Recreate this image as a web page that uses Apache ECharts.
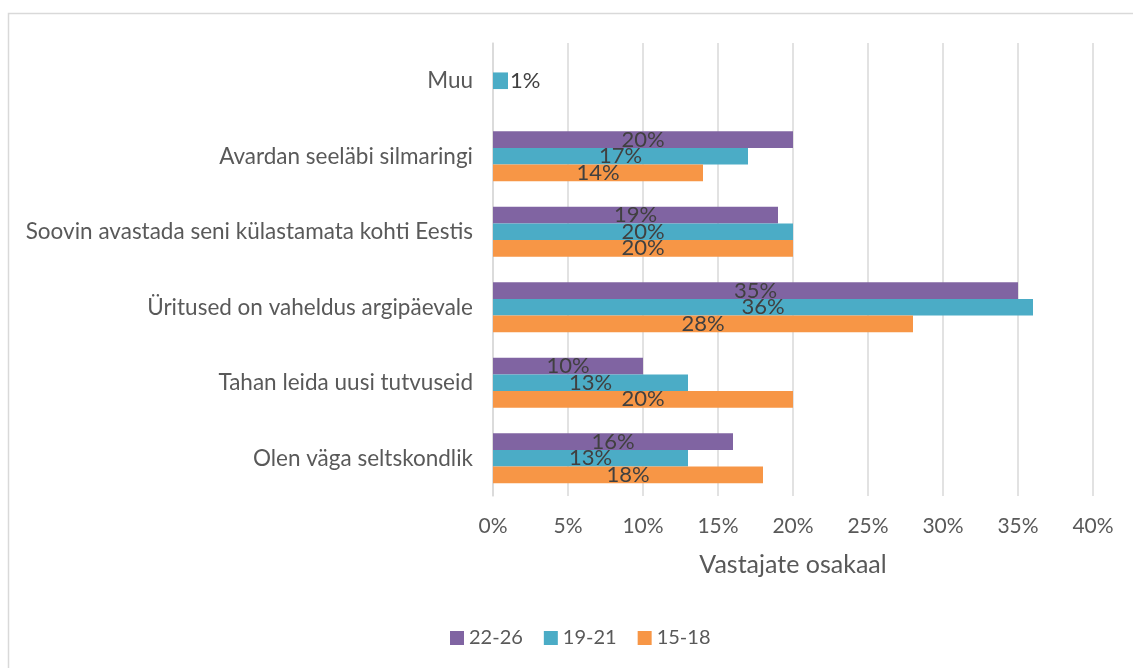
<!DOCTYPE html>
<html>
<head>
<meta charset="utf-8">
<script src="https://cdn.jsdelivr.net/npm/echarts@6/dist/echarts.min.js"></script>
<style>
  html, body { margin: 0; padding: 0; background: #fff; }
  #chart { width: 1133px; height: 668px; }
</style>
</head>
<body>
<div id="chart"></div>
<script>
// kategooriad alt üles
var categories = ['Olen väga seltskondlik', 'Tahan leida uusi tutvuseid', 'Üritused on vaheldus argipäevale',
    'Soovin avastada seni külastamata kohti Eestis', 'Avardan seeläbi silmaringi', 'Muu'];
var age2226 = [16, 10, 35, 19, 20, null];
var age1921 = [13, 13, 36, 20, 17, 1];
var age1518 = [18, 20, 28, 20, 14, null];
var xTicks = [0, 5, 10, 15, 20, 25, 30, 35, 40];

var FONT = 'Lato';
var dom = document.getElementById('chart');
var myChart = echarts.init(dom);

function withLabels(arr) {
    return arr.map(function (v) {
        // väike väärtus -> silt väljapoole
        if (v !== null && v < 3) {
            return { value: v, label: { position: 'right', distance: 2 } };
        }
        return v;
    });
}

var labelStyle = {
    show: true,
    position: 'inside',
    color: '#404040',
    fontFamily: FONT,
    fontSize: 22,
    formatter: '{c}%'
};

var option = {
    backgroundColor: '#fff',
    animation: false,
    graphic: [{
        type: 'rect',
        shape: { x: 8.5, y: 13.5, width: 1200, height: 700 },
        style: { fill: 'none', stroke: '#d9d9d9', lineWidth: 1.5 },
        silent: true
    }],
    legend: {
        data: ['22-26', '19-21', '15-18'],
        left: 445,
        top: 623,
        itemWidth: 14,
        itemHeight: 14,
        itemGap: 21,
        icon: 'rect',
        textStyle: { color: '#595959', fontFamily: FONT, fontSize: 20 }
    },
    grid: {
        left: 493,
        right: 40,
        top: 43,
        bottom: 172,
        containLabel: false
    },
    xAxis: {
        type: 'value',
        min: 0,
        max: 40,
        interval: 5,
        name: 'Vastajate osakaal',
        nameLocation: 'middle',
        nameGap: 56,
        nameTextStyle: { color: '#595959', fontFamily: FONT, fontSize: 25 },
        axisLine: { show: false },
        axisTick: { show: false },
        axisLabel: {
            color: '#595959',
            fontFamily: FONT,
            fontSize: 21,
            margin: 20,
            formatter: function (v) { return xTicks.indexOf(v) >= 0 ? v + '%' : ''; }
        },
        splitLine: { show: true, lineStyle: { color: '#d9d9d9', width: 1.5 } }
    },
    yAxis: {
        type: 'category',
        data: categories,
        axisLine: { show: true, lineStyle: { color: '#d9d9d9', width: 1.5 } },
        axisTick: { show: false },
        axisLabel: {
            color: '#595959',
            fontFamily: FONT,
            fontSize: 22.5,
            margin: 20
        }
    },
    series: [
        {
            name: '22-26',
            type: 'bar',
            barGap: '0%',
            barCategoryGap: '34%',
            itemStyle: { color: '#8064A2' },
            label: labelStyle,
            data: withLabels(age2226)
        },
        {
            name: '19-21',
            type: 'bar',
            barGap: '0%',
            barCategoryGap: '34%',
            itemStyle: { color: '#4BACC6' },
            label: labelStyle,
            data: withLabels(age1921)
        },
        {
            name: '15-18',
            type: 'bar',
            barGap: '0%',
            barCategoryGap: '34%',
            itemStyle: { color: '#F79646' },
            label: labelStyle,
            data: withLabels(age1518)
        }
    ]
};

if (option && typeof option === 'object') {
    myChart.setOption(option, true);
}
</script>
</body>
</html>
